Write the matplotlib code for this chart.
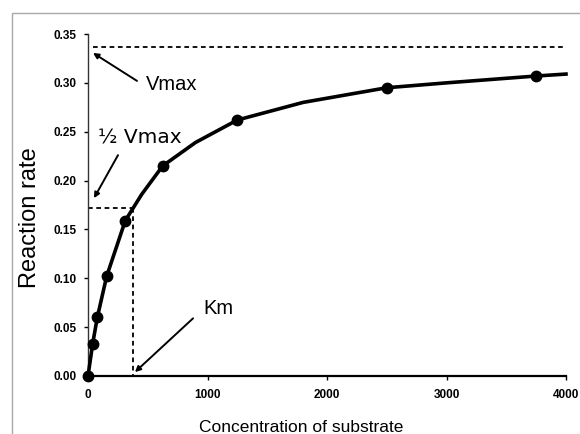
import matplotlib
matplotlib.use("Agg")
import matplotlib.pyplot as plt
from matplotlib.patches import Rectangle

plt.rcParams['font.family'] = ['Liberation Sans', 'DejaVu Sans']

# measured rates at each substrate concentration
substrate = [0, 39, 78, 156, 312, 625, 1250, 2500, 3750]
rate = [0.0, 0.033, 0.060, 0.102, 0.159, 0.215, 0.262, 0.295, 0.307]

# smooth fitted curve, read between the points and out to the axis end
curve_x = [0, 39, 78, 156, 312, 450, 625, 900, 1250, 1800, 2500, 3000, 3750, 4000]
curve_y = [0.0, 0.033, 0.060, 0.102, 0.159, 0.186, 0.215, 0.239, 0.262,
           0.280, 0.295, 0.300, 0.307, 0.309]

vmax = 0.337
half_vmax = 0.172
km = 375

x_ticks = [0, 1000, 2000, 3000, 4000]
y_ticks = [0.00, 0.05, 0.10, 0.15, 0.20, 0.25, 0.30, 0.35]

fig = plt.figure(figsize=(5.8, 4.34), dpi=100)
ax = fig.add_axes([88 / 580, 58 / 434, 478 / 580, 342 / 434])

# outer frame round the chart area
fig.patches.append(Rectangle((12 / 580, -0.1), 1.2, 0.1 + 421 / 434,
                             transform=fig.transFigure, fill=False,
                             edgecolor='#a8a8a8', lw=1.0))

ax.plot(curve_x, curve_y, color='black', lw=2.6, clip_on=False, zorder=3,
        solid_joinstyle='round')
ax.plot(substrate, rate, 'o', color='black', ms=7.5, clip_on=False, zorder=4)

dash = (0, (2.6, 2.0))
ax.plot([40, 4000], [vmax, vmax], color='black', lw=1.3, linestyle=dash)
ax.plot([0, km], [half_vmax, half_vmax], color='black', lw=1.3, linestyle=dash)
ax.plot([km, km], [half_vmax, 0], color='black', lw=1.3, linestyle=dash)

arrow = dict(arrowstyle='-|>', color='black', lw=1.4,
             mutation_scale=8, shrinkA=0, shrinkB=0)
ax.annotate('', xy=(42, 0.3306), xytext=(410, 0.302), arrowprops=arrow)
ax.annotate('', xy=(50, 0.182), xytext=(251, 0.226), arrowprops=arrow)
ax.annotate('', xy=(393, 0.004), xytext=(879, 0.059), arrowprops=arrow)

ax.text(703, 0.298, 'Vmax', fontsize=14.5, ha='center', va='center')
ax.text(435, 0.2436, '½ Vmax', fontsize=14.5, ha='center', va='center',
        family=['DejaVu Sans'])
ax.text(1088, 0.0686, 'Km', fontsize=14.5, ha='center', va='center')

ax.set_xlim(0, 4000)
ax.set_ylim(0, 0.35)
ax.set_xticks(x_ticks)
ax.set_yticks(y_ticks)
ax.set_xticklabels([str(v) for v in x_ticks])
ax.set_yticklabels(['%.2f' % v for v in y_ticks])

for side in ['top', 'right']:
    ax.spines[side].set_visible(False)
ax.spines['left'].set_linewidth(1.0)
ax.spines['left'].set_color('#333333')
ax.spines['bottom'].set_linewidth(1.6)

ax.tick_params(axis='y', direction='out', length=3, width=1,
               labelsize=8.5, pad=5)
ax.tick_params(axis='x', direction='out', length=3, width=1,
               labelsize=8.5, pad=6.5)
for lab in ax.get_xticklabels() + ax.get_yticklabels():
    lab.set_fontweight('bold')

fig.text(30 / 580, (434 - 218) / 434, 'Reaction rate', rotation=90,
         fontsize=17, ha='center', va='center')
fig.text(301 / 580, 1.5 / 434, 'Concentration of substrate',
         fontsize=12.5, ha='center', va='baseline')

fig.savefig('out.png', dpi=100)
